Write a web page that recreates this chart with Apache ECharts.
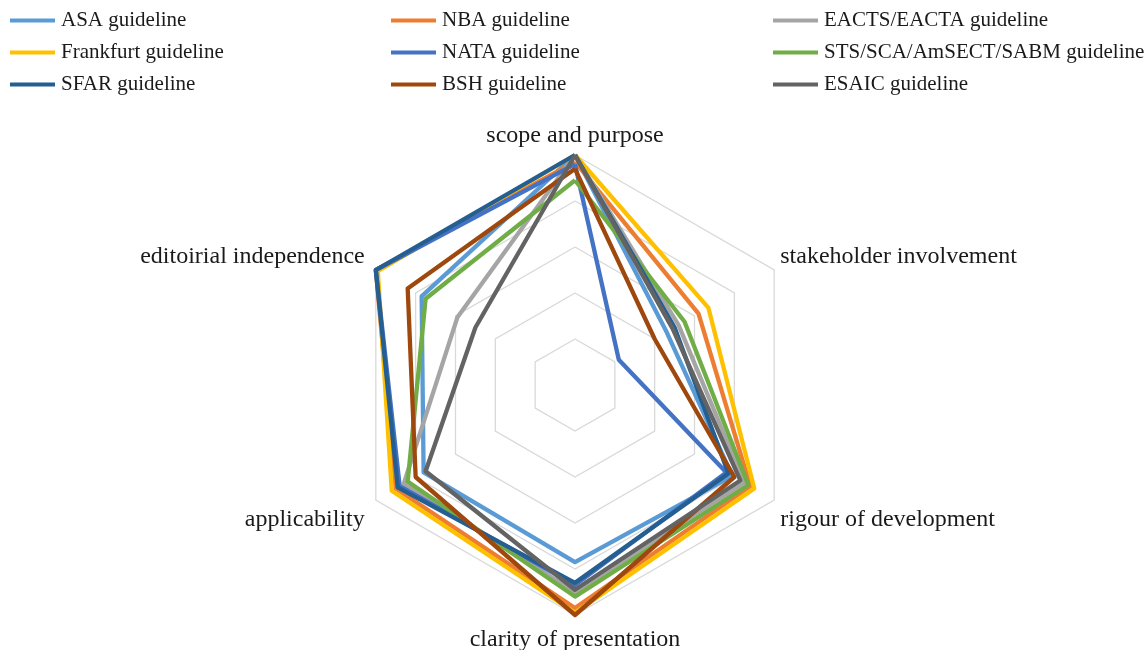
<!DOCTYPE html>
<html>
<head>
<meta charset="utf-8">
<title>AGREE II radar</title>
<script src="https://cdn.jsdelivr.net/npm/echarts@6/dist/echarts.min.js"></script>
<style>
    html,body{margin:0;padding:0;background:#fff;}
    #container{width:1148px;height:650px;}
</style>
</head>
<body>
<div id="container"></div>
<script>
// domains, clockwise from top (as in the picture)
var domains = ["scope and purpose", "stakeholder involvement", "rigour of development",
               "clarity of presentation", "applicability", "editoirial independence"];

var seriesNames = ["ASA guideline", "NBA guideline", "EACTS/EACTA guideline",
                   "Frankfurt guideline", "NATA guideline", "STS/SCA/AmSECT/SABM guideline",
                   "SFAR guideline", "BSH guideline", "ESAIC guideline"];

// scores (%) per domain, same order as domains
var asaScores       = [100, 46, 79, 77, 76, 77];
var nbaScores       = [97, 62, 88, 97, 90, 100];
var eactsScores     = [100, 52, 85, 90, 86, 59];
var frankfurtScores = [100, 67, 90, 99, 92, 99];
var nataScores      = [96, 22, 76, 87, 88, 100];
var stsScores       = [89, 55, 87, 92, 84, 75];
var sfarScores      = [100, 50, 77, 86, 89, 100];
var bshScores       = [94, 40, 80, 100, 80, 84];
var esaicScores     = [100, 49, 83, 89, 75, 50];

var colors = ["#5B9BD5", "#ED7D31", "#A5A5A5", "#FFC000", "#4472C4",
              "#70AD47", "#255E91", "#9E480E", "#636363"];

var page = {
    font: "'Liberation Serif', 'Times New Roman', serif",
    // echarts draws radar indicators counter-clockwise, picture goes clockwise
    order: [0, 5, 4, 3, 2, 1],
    // rich style key for each domain label (nudges label position)
    labelKey: ["top", "ur", "lr", "bot", "ll", "ul"],
    init: function () {
        var that = this;
        var allScores = [asaScores, nbaScores, eactsScores, frankfurtScores, nataScores,
                         stsScores, sfarScores, bshScores, esaicScores];
        var indicator = that.order.map(function (i) {
            return {name: domains[i], max: 100, min: 0};
        });
        var series = [];
        for (var k = 0; k < seriesNames.length; k++) {
            var vals = that.order.map(function (i) { return allScores[k][i]; });
            series.push({
                name: seriesNames[k],
                type: "radar",
                symbol: "none",
                color: colors[k],
                lineStyle: {width: 4.3, color: colors[k]},
                data: [{name: seriesNames[k], value: vals}]
            });
        }
        that.generateCharts(indicator, series);
    },
    legendCol: function (names, left) {
        return {
            orient: "vertical",
            left: left,
            top: 10,
            padding: 0,
            icon: "rect",
            itemWidth: 45,
            itemHeight: 4,
            itemGap: 11,
            data: names,
            textStyle: {fontFamily: this.font, fontSize: 21, lineHeight: 21, color: "#1a1a1a", padding: [0, 0, 0, 1]}
        };
    },
    generateCharts: function (indicator, series) {
        var that = this;
        var base = {fontFamily: that.font, fontSize: 24, color: "#1a1a1a"};
        var option = {
            backgroundColor: "#fff",
            animation: false,
            legend: [
                that.legendCol([seriesNames[0], seriesNames[3], seriesNames[6]], 10),
                that.legendCol([seriesNames[1], seriesNames[4], seriesNames[7]], 391),
                that.legendCol([seriesNames[2], seriesNames[5], seriesNames[8]], 773)
            ],
            radar: {
                center: [575, 385],
                radius: 230,
                startAngle: 90,
                splitNumber: 5,
                shape: "polygon",
                indicator: indicator,
                nameGap: 7,
                axisName: {
                    color: "#1a1a1a", fontFamily: that.font, fontSize: 24,
                    formatter: function (name) {
                        var key = that.labelKey[domains.indexOf(name)];
                        return "{" + key + "|" + name + "}";
                    },
                    rich: {
                        top: Object.assign({lineHeight: 24, padding: [0, 0, 0, 0]}, base),
                        ur: Object.assign({padding: [0, 0, 20, 0]}, base),
                        lr: Object.assign({padding: [32, 0, 0, 0]}, base),
                        bot: Object.assign({padding: [6, 0, 0, 0]}, base),
                        ll: Object.assign({padding: [32, 5, 0, 0]}, base),
                        ul: Object.assign({padding: [0, 5, 20, 0]}, base)
                    }
                },
                axisLine: {show: false},
                axisTick: {show: false},
                axisLabel: {show: false},
                splitArea: {show: false},
                splitLine: {lineStyle: {color: "#D9D9D9", width: 1.3}}
            },
            series: series
        };
        echarts.init(document.getElementById("container")).setOption(option);
    }
};

page.init();
</script>
</body>
</html>
